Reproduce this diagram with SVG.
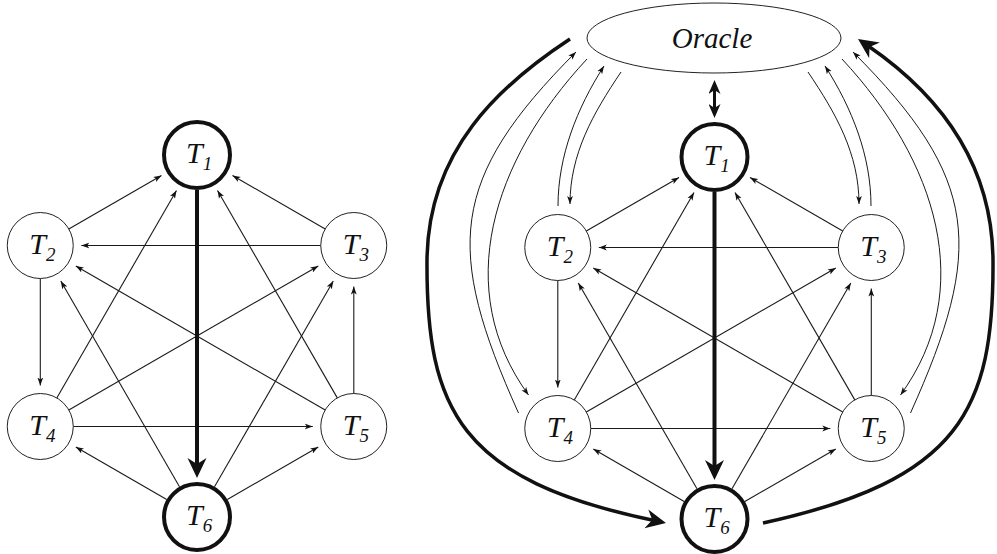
<svg xmlns="http://www.w3.org/2000/svg" width="997" height="554" viewBox="0 0 997 554">
<style>
.bg{fill:#fff}
.e{fill:none;stroke:#1a1a1a;stroke-width:1.1;marker-end:url(#ah)}
.c{fill:none;stroke:#1a1a1a;stroke-width:1;marker-end:url(#ah)}
.thick{fill:none;stroke:#111;stroke-width:4;marker-end:url(#big)}
.curve{fill:none;stroke:#111;stroke-width:3.5}
.n{fill:#fff;stroke:#222;stroke-width:1}
.nb{fill:#fff;stroke:#111;stroke-width:4}
.t{font-family:'Liberation Serif','DejaVu Serif',serif;font-style:italic;font-size:30px;fill:#111}
.s{font-size:19px}
.o{font-family:'Liberation Serif','DejaVu Serif',serif;font-style:italic;font-size:29px;fill:#111}
</style>
<defs>
<marker id="ah" viewBox="0 0 10 8" refX="10" refY="4" markerWidth="8" markerHeight="6.4" markerUnits="userSpaceOnUse" orient="auto"><path d="M0,0.4 L10,4 L0,7.6 L2.5,4 z" fill="#111"/></marker>
<marker id="big" viewBox="0 0 20 20" refX="8" refY="10" markerWidth="20" markerHeight="20" markerUnits="userSpaceOnUse" orient="auto"><path d="M0,0.5 L20,10 L0,19.5 L6,10 z" fill="#111"/></marker>
<marker id="dbl" viewBox="0 0 14 12" refX="5" refY="6" markerWidth="14" markerHeight="12" markerUnits="userSpaceOnUse" orient="auto-start-reverse"><path d="M0,0 L14,6 L0,12 L4,6 z" fill="#111"/></marker>
</defs>
<rect class="bg" x="0" y="0" width="997" height="554"/>
<g id="connectors">
<path class="e" d="M68.8,229 L161.5,175.5"/>
<path class="e" d="M325.2,229 L232.5,175.5"/>
<path class="e" d="M320.8,245.5 L81.3,245.5"/>
<path class="e" d="M40.3,278.5 L40.3,385.5"/>
<path class="e" d="M353.8,393.5 L353.8,286.5"/>
<path class="e" d="M73.3,426.5 L312.8,426.5"/>
<path class="e" d="M166.7,499.5 L75.8,447"/>
<path class="e" d="M227.3,499.5 L318.3,447"/>
<path class="e" d="M56.8,397.9 L176.5,190.5"/>
<path class="e" d="M337.3,397.9 L217.5,190.5"/>
<path class="e" d="M179.5,486.7 L60.8,281"/>
<path class="e" d="M214.5,486.7 L333.3,281"/>
<path class="e" d="M68.8,410 L318.3,266"/>
<path class="e" d="M325.2,410 L75.8,266"/>
<path class="thick" d="M197,190 L197,466"/>
<path class="e" d="M586.3,231 L679,177.5"/>
<path class="e" d="M842.7,231 L750,177.5"/>
<path class="e" d="M838.3,247.5 L598.8,247.5"/>
<path class="e" d="M557.8,280.5 L557.8,387.5"/>
<path class="e" d="M871.3,395.5 L871.3,288.5"/>
<path class="e" d="M590.8,428.5 L830.3,428.5"/>
<path class="e" d="M684.2,501.5 L593.3,449"/>
<path class="e" d="M744.8,501.5 L835.8,449"/>
<path class="e" d="M574.3,399.9 L694,192.5"/>
<path class="e" d="M854.8,399.9 L735,192.5"/>
<path class="e" d="M697,488.7 L578.3,283"/>
<path class="e" d="M732,488.7 L850.8,283"/>
<path class="e" d="M586.3,412 L835.8,268"/>
<path class="e" d="M842.7,412 L593.3,268"/>
<path class="thick" d="M714.5,192 L714.5,468"/>
<path d="M714.5,89 L714.5,109" fill="none" stroke="#111" stroke-width="3" marker-start="url(#dbl)" marker-end="url(#dbl)"/>
<path class="c" d="M518.5,413 C444.7,249 448.7,179.3 576,52"/>
<path class="c" d="M587,59 C491.8,161.2 451.8,289.7 528.5,395"/>
<path class="c" d="M558,206 C558,156 577,108 604,66"/>
<path class="c" d="M621,72 C593,113.5 570,154 570,204"/>
<path class="c" d="M910.5,413 C984.3,249 980.3,179.3 853,52"/>
<path class="c" d="M842,59 C937.2,161.2 977.2,289.7 900.5,395"/>
<path class="c" d="M871,206 C871,156 852,108 825,66"/>
<path class="c" d="M808,72 C836,113.5 859,154 859,204"/>
<path class="curve" d="M570,39 C500,85 428,150 427,260 C426,410 460,480 654.2,520.5" marker-end="url(#big)"/>
<path class="curve" d="M763,523 C960,480 994,410 993,260 C992,150 925,85 867.9,45.8" marker-end="url(#big)"/>
</g>
<g id="L-T1"><circle class="nb" cx="197" cy="155" r="33"/><text class="t" x="186" y="163">T<tspan class="s" dy="7">1</tspan></text></g>
<g id="L-T2"><circle class="n" cx="40.25" cy="245.5" r="33"/><text class="t" x="29.25" y="253.5">T<tspan class="s" dy="7">2</tspan></text></g>
<g id="L-T3"><circle class="n" cx="353.75" cy="245.5" r="33"/><text class="t" x="342.75" y="253.5">T<tspan class="s" dy="7">3</tspan></text></g>
<g id="L-T4"><circle class="n" cx="40.25" cy="426.5" r="33"/><text class="t" x="29.25" y="434.5">T<tspan class="s" dy="7">4</tspan></text></g>
<g id="L-T5"><circle class="n" cx="353.75" cy="426.5" r="33"/><text class="t" x="342.75" y="434.5">T<tspan class="s" dy="7">5</tspan></text></g>
<g id="L-T6"><circle class="nb" cx="197" cy="517" r="33"/><text class="t" x="186" y="525">T<tspan class="s" dy="7">6</tspan></text></g>
<g id="oracle"><ellipse cx="714" cy="38" rx="127" ry="35" fill="#fff" stroke="#222" stroke-width="1"/><text class="o" x="712" y="48" text-anchor="middle">Oracle</text></g>
<g id="R-T1"><circle class="nb" cx="714.5" cy="157" r="33"/><text class="t" x="703.5" y="165">T<tspan class="s" dy="7">1</tspan></text></g>
<g id="R-T2"><circle class="n" cx="557.75" cy="247.5" r="33"/><text class="t" x="546.75" y="255.5">T<tspan class="s" dy="7">2</tspan></text></g>
<g id="R-T3"><circle class="n" cx="871.25" cy="247.5" r="33"/><text class="t" x="860.25" y="255.5">T<tspan class="s" dy="7">3</tspan></text></g>
<g id="R-T4"><circle class="n" cx="557.75" cy="428.5" r="33"/><text class="t" x="546.75" y="436.5">T<tspan class="s" dy="7">4</tspan></text></g>
<g id="R-T5"><circle class="n" cx="871.25" cy="428.5" r="33"/><text class="t" x="860.25" y="436.5">T<tspan class="s" dy="7">5</tspan></text></g>
<g id="R-T6"><circle class="nb" cx="714.5" cy="519" r="33"/><text class="t" x="703.5" y="527">T<tspan class="s" dy="7">6</tspan></text></g>
</svg>
